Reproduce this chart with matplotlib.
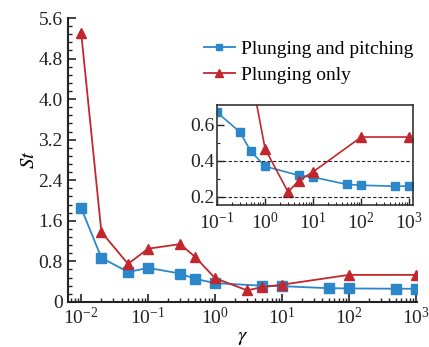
import numpy as np
import matplotlib.pyplot as plt
from matplotlib.ticker import FixedLocator, LogLocator, NullFormatter, FuncFormatter

plt.rcParams['font.family'] = ['Liberation Serif', 'DejaVu Serif']
plt.rcParams['mathtext.fontset'] = 'stix'

# data
gamma_pp = [0.01, 0.02, 0.05, 0.1, 0.3, 0.5, 1, 5, 10, 50, 100, 500, 1000]
st_pp = [1.85, 0.87, 0.59, 0.67, 0.56, 0.455, 0.37, 0.32, 0.31, 0.27, 0.265, 0.26, 0.26]
gamma_po = [0.01, 0.02, 0.05, 0.1, 0.3, 0.5, 1, 3, 5, 10, 100, 1000]
st_po = [5.3, 1.38, 0.75, 1.05, 1.14, 0.89, 0.467, 0.228, 0.29, 0.34, 0.533, 0.533]
labels = ['Plunging and pitching', 'Plunging only']

blue = '#2b87c9'
red = '#c1272d'

fig = plt.figure(figsize=(4.29, 3.47), dpi=100)
ax = fig.add_axes([0.158, 0.130, 0.815, 0.818])

ax.plot(gamma_pp, st_pp, '-s', color=blue, ms=6.5, lw=1.3, label=labels[0])
ax.plot(gamma_po, st_po, '-^', color=red, ms=7.5, lw=1.3, label=labels[1])
ax.set_xscale('log')
ax.set_xlim(0.0063, 1050)
ax.set_ylim(0, 5.6)
ax.set_yticks(np.arange(0, 5.61, 0.8))
ax.yaxis.set_minor_locator(FixedLocator(np.arange(0, 5.61, 0.16)))
ax.yaxis.set_major_formatter(FuncFormatter(lambda v, p: '0' if v == 0 else f'{v:.1f}'))
ax.xaxis.set_major_locator(LogLocator(base=10, numticks=10))
ax.xaxis.set_minor_locator(LogLocator(base=10, subs=np.arange(2, 10), numticks=20))
ax.xaxis.set_minor_formatter(NullFormatter())
ax.spines['top'].set_visible(False)
ax.spines['right'].set_visible(False)
for s in ['left', 'bottom']:
    ax.spines[s].set_linewidth(1.5)
    ax.spines[s].set_color('#222222')
ax.tick_params(which='both', direction='in', labelsize=14, colors='#222222')
ax.tick_params(which='major', length=6, width=1.2)
ax.tick_params(which='minor', length=3, width=1.0)
ax.set_ylabel('$St$', fontsize=15, labelpad=0)
ax.set_xlabel('$\\gamma$', fontsize=15, labelpad=0)
ax.legend(loc='upper left', bbox_to_anchor=(0.35, 0.97), frameon=False,
          fontsize=14, handlelength=1.6, handletextpad=0.3, labelspacing=0.45,
          markerscale=0.75, borderpad=0.2)

# inset
axin = fig.add_axes([0.506, 0.409, 0.457, 0.288])
axin.plot(gamma_pp, st_pp, '-s', color=blue, ms=5.5, lw=1.2)
axin.plot(gamma_po, st_po, '-^', color=red, ms=6.5, lw=1.2)
axin.set_xscale('log')
axin.set_xlim(0.1, 1200)
axin.set_ylim(0.155, 0.71)
for yl in [0.2, 0.4]:
    axin.axhline(yl, color='#222222', ls='--', lw=0.8, dashes=(3, 2))
axin.set_yticks([0.2, 0.4, 0.6])
axin.yaxis.set_minor_locator(FixedLocator([0.3, 0.5]))
axin.xaxis.set_major_locator(LogLocator(base=10, numticks=10))
axin.xaxis.set_minor_locator(LogLocator(base=10, subs=np.arange(2, 10), numticks=20))
axin.xaxis.set_minor_formatter(NullFormatter())
axin.tick_params(which='both', direction='in', labelsize=14, colors='#222222', pad=2)
axin.tick_params(axis='x', which='major', pad=5)
axin.tick_params(which='major', length=5, width=1.0)
axin.tick_params(which='minor', length=2.5, width=0.8)
for s in axin.spines.values():
    s.set_linewidth(1.2)
    s.set_color('#333333')

fig.savefig('out.png', dpi=100)
